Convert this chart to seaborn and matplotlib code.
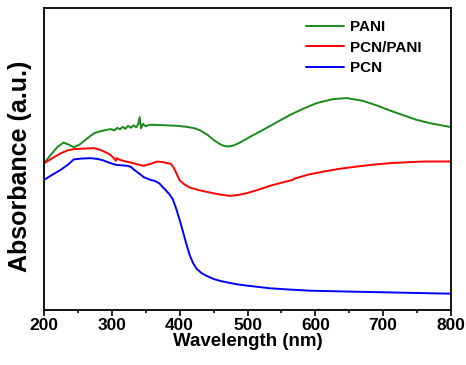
import numpy as np
import pandas as pd
import matplotlib
matplotlib.use("Agg")
import matplotlib.pyplot as plt
import seaborn as sns
from matplotlib.ticker import MultipleLocator

# Wavelength (nm) and absorbance (a.u.)
pani_wl = [200, 210, 220, 229, 236, 244, 252, 262, 274, 286, 298, 304, 308, 312, 316, 320,
           324, 328, 332, 336, 339, 341, 343, 346, 350, 355, 362, 380, 396, 410, 421, 430,
           440, 450, 457, 464, 472, 480, 489, 505, 523, 543, 563, 582, 602, 626, 646, 670,
           690, 710, 730, 749, 770, 800]
pani_ab = [146.5, 155, 163, 167.3, 165.3, 162.7, 165, 170.5, 176.7, 179, 180.7, 179.5, 182,
           180.5, 183, 181, 184, 182, 184.5, 182.5, 186, 192.7, 181.5, 186, 183.5, 185, 185,
           184.5, 184, 183, 181.7, 179.5, 175.5, 170, 166.7, 164.2, 163.3, 164.5, 167.3,
           173.5, 180, 187.5, 195, 201, 206.7, 210.7, 211.7, 209, 204.5, 199.3, 194.5, 190,
           186.5, 182.7]

pcnpani_wl = [200, 212, 225, 235, 244, 258, 274, 283, 291, 298, 303, 306, 307, 312, 320, 328,
              338, 347, 357, 367, 377, 387, 391, 395, 400, 406, 415, 430, 445, 460, 474, 487,
              499, 513, 533, 550, 567, 569, 590, 612, 635, 661, 685, 710, 735, 759, 780, 800]
pcnpani_ab = [146.5, 151.5, 156.7, 159.5, 160.7, 161.2, 161.7, 160, 157.5, 155, 151.5, 149,
              151.7, 150, 148.5, 147.3, 145.5, 144, 146, 148.3, 147.5, 146, 142.5, 137, 129.5,
              126, 122.3, 119.5, 117.3, 115.3, 114, 115, 116.7, 119.5, 124, 127.2, 130, 131.2,
              135.3, 138.3, 141, 143.3, 145.2, 146.7, 147.6, 148.3, 148.4, 148.4]

pcn_wl = [200, 212, 225, 235, 244, 256, 269, 280, 288, 297, 306, 315, 323, 328, 333, 340, 347,
          357, 363, 370, 379, 385, 390, 395, 400, 405, 410, 415, 420, 425, 432, 440, 450,
          460, 472, 484, 500, 533, 560, 592, 650, 700, 750, 800]
pcn_ab = [130, 135, 140.2, 145, 150.5, 151.3, 151.7, 150.8, 149.3, 147, 145, 144.5, 144,
          143, 140, 136.5, 132.7, 130, 129, 126.5, 120, 115.5, 110.5, 101, 90, 78, 65.5, 54.5,
          46.5, 41.2, 37, 34, 31, 29, 27.3, 25.7, 24.3, 21.7, 20.5, 19.3, 18.4, 17.7, 17,
          16.3]

series_names = ["PANI", "PCN/PANI", "PCN"]
series_colors = ["#1a8a1a", "#ff0000", "#0000ff"]

frames = []
for name, wl, ab in [("PANI", pani_wl, pani_ab), ("PCN/PANI", pcnpani_wl, pcnpani_ab),
                     ("PCN", pcn_wl, pcn_ab)]:
    frames.append(pd.DataFrame({"wl": wl, "ab": ab, "sample": name}))
df = pd.concat(frames, ignore_index=True)

sns.set_style("ticks")
plt.rcParams['font.family'] = ['Liberation Sans', 'DejaVu Sans']
plt.rcParams['font.weight'] = 'bold'
plt.rcParams['text.color'] = 'black'
plt.rcParams['axes.labelcolor'] = 'black'
plt.rcParams['xtick.color'] = 'black'
plt.rcParams['ytick.color'] = 'black'

fig = plt.figure(figsize=(4.66, 3.65), dpi=100)
ax = fig.add_axes([44/466, 1 - 310/365, (451-44)/466, (310-8)/365])

sns.lineplot(data=df, x="wl", y="ab", hue="sample", hue_order=series_names,
             palette=series_colors, linewidth=1.4, ax=ax, sort=False, estimator=None)

ax.set_xlim(200, 800)
ax.set_ylim(0, 301.7)
ax.xaxis.set_major_locator(MultipleLocator(100))
ax.xaxis.set_minor_locator(MultipleLocator(50))
ax.set_yticks([])
ax.tick_params(axis='x', which='major', direction='out', length=4, width=1.2,
               labelsize=12.5, pad=2, colors='black')
ax.tick_params(axis='x', which='minor', direction='out', length=2.5, width=1.2)
for lab in ax.get_xticklabels():
    lab.set_fontweight('bold')
for s in ax.spines.values():
    s.set_linewidth(1.3)
    s.set_color('black')

ax.set_xlabel("Wavelength (nm)", fontsize=13.5, fontweight='bold', labelpad=0, color='black')
ax.set_ylabel("Absorbance (a.u.)", fontsize=18, fontweight='bold', color='black')
ax.yaxis.set_label_coords(-0.03, 0.475)

leg = ax.legend(title=None, frameon=False, loc='upper right', bbox_to_anchor=(0.962, 1.005),
                fontsize=11, handlelength=2.5, handletextpad=0.4, labelspacing=0.42)
for t in leg.get_texts():
    t.set_fontweight('bold')
    t.set_color('black')

fig.savefig("out.png", dpi=100)
